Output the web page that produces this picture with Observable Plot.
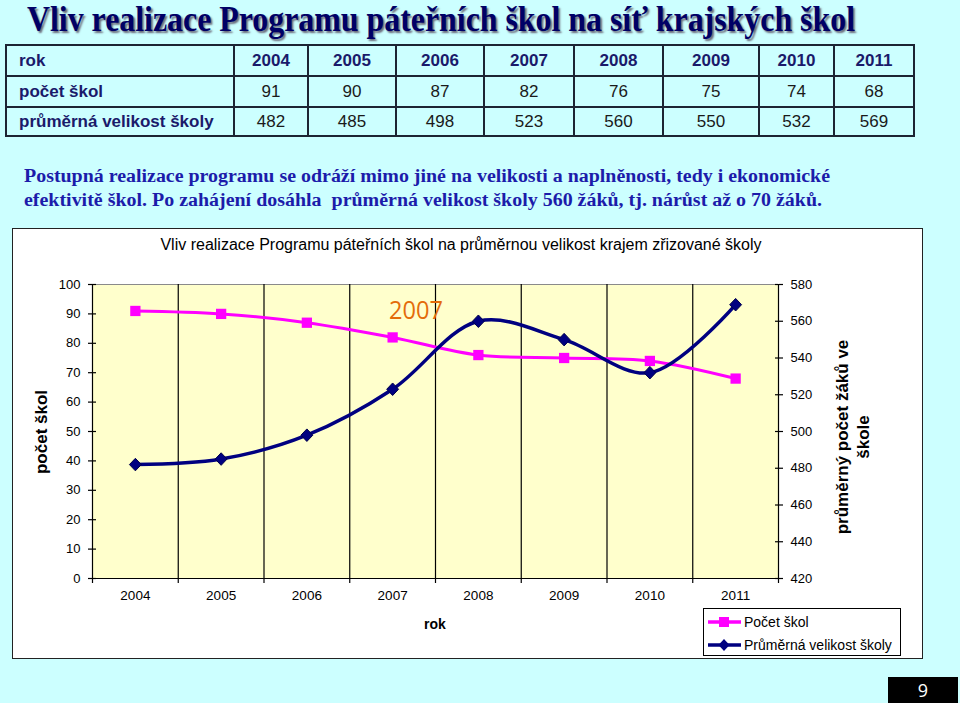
<!DOCTYPE html>
<html>
<head>
<meta charset="utf-8">
<script src="https://cdn.jsdelivr.net/npm/d3@7"></script>
<script src="https://cdn.jsdelivr.net/npm/@observablehq/plot@0.6"></script>
<style>
  html, body { margin: 0; padding: 0; }
  body { width: 960px; height: 703px; background: #ccffff; position: relative; overflow: hidden; font-family: "Liberation Sans", Arial, sans-serif; }
  .abs { position: absolute; white-space: nowrap; }
  #title { left: 27px; top: 2px; line-height: 1; font-family: "Liberation Serif", "Times New Roman", serif; font-weight: bold; font-size: 35px; color: #000066; text-shadow: 2px 2px 2px #6a6a7a; transform-origin: 0 50%; }
  table { position: absolute; left: 5px; top: 44px; border-collapse: collapse; font-size: 17px; }
  td { border: 2px solid #1c2433; padding: 0; text-align: center; color: #1a1a1a; height: 29px; }
  td.h { font-weight: bold; color: #1a1a6a; }
  td.first { text-align: left; padding-left: 12px; font-weight: bold; color: #1a1a6a; }
  .para { left: 24px; font-family: "Liberation Serif", "Times New Roman", serif; font-weight: bold; font-size: 18.5px; color: #1c1caa; transform-origin: 0 50%; }
  #chartbox { position: absolute; left: 12px; top: 228px; width: 909px; height: 429px; background: #fff; border: 1px solid #222; }
  #plot { position: absolute; left: 13px; top: 229px; }
  #ctitle { left: 0; width: 922px; top: 236px; text-align: center; font-size: 16px; color: #000; }
  #anno { left: 389px; top: 291px; font-family: "Open Sans", sans-serif; font-size: 26px; color: #e46c0a; transform-origin: 0 50%; }
  .ylab { font-weight: bold; font-size: 17px; color: #000; text-align: center; transform: translate(-50%, -50%) rotate(-90deg); line-height: 21px; }
  #rok { left: 435px; top: 624px; transform: translate(-50%, -50%); font-weight: bold; font-size: 14px; }
  #legend { position: absolute; left: 703px; top: 608px; width: 196px; height: 46px; border: 1px solid #000; background: #fff; font-size: 14px; }
  .lrow { position: absolute; left: 4px; height: 20px; display: flex; align-items: center; }
  .lrow svg { margin-right: 3px; }
  #page { left: 888px; top: 677px; width: 70px; height: 26px; background: #000; color: #fff; font-family: "Open Sans", sans-serif; font-size: 18px; text-align: center; line-height: 26px; }
</style>
</head>
<body>
<div id="title" class="abs">Vliv realizace Programu páteřních škol na síť krajských škol</div>
<div id="tablewrap"></div>
<div id="p1" class="abs para" style="top:166px">Postupná realizace programu se odráží mimo jiné na velikosti a naplněnosti, tedy i ekonomické</div>
<div id="p2" class="abs para" style="top:190px">efektivitě škol. Po zahájení dosáhla&nbsp; průměrná velikost školy 560 žáků, tj. nárůst až o 70 žáků.</div>
<div id="chartbox"></div>
<div id="ctitle" class="abs">Vliv realizace Programu páteřních škol na průměrnou velikost krajem zřizované školy</div>
<div id="plot"></div>
<div id="anno" class="abs">2007</div>
<div class="abs ylab" style="left:41px; top:432px;">počet škol</div>
<div class="abs ylab" style="left:853px; top:437px;">průměrný počet žáků ve<br>škole</div>
<div id="rok" class="abs">rok</div>
<div id="legend"></div>
<div id="page" class="abs">9</div>
<script>
// ---- data ----
const years = [2004, 2005, 2006, 2007, 2008, 2009, 2010, 2011];
const pocetSkol = [91, 90, 87, 82, 76, 75, 74, 68];
const velikost = [482, 485, 498, 523, 560, 550, 532, 569];
const leftTicks = [0, 10, 20, 30, 40, 50, 60, 70, 80, 90, 100];
const rightTicks = [420, 440, 460, 480, 500, 520, 540, 560, 580];
const rowLabels = ["rok", "počet škol", "průměrná velikost školy"];
const seriesNames = ["Počet škol", "Průměrná velikost školy"];
const colWidths = [228, 74, 88, 88, 90, 89, 96, 75, 80];

// ---- table ----
(function () {
  const t = document.createElement("table");
  const rows = [years, pocetSkol, velikost];
  rows.forEach((vals, r) => {
    const tr = document.createElement("tr");
    const th = document.createElement("td");
    th.className = "first";
    th.textContent = rowLabels[r];
    th.style.width = (colWidths[0] - 14) + "px";
    tr.appendChild(th);
    vals.forEach((v, i) => {
      const td = document.createElement("td");
      if (r === 0) td.className = "h";
      td.textContent = v;
      td.style.width = (colWidths[i + 1] - 2) + "px";
      tr.appendChild(td);
    });
    if (r === 2) tr.querySelectorAll("td").forEach(td => td.style.height = "27px");
    t.appendChild(tr);
  });
  document.getElementById("tablewrap").appendChild(t);
})();

// fit widths of condensed text
function fit(id, target) {
  const el = document.getElementById(id);
  const w = el.getBoundingClientRect().width;
  el.style.transform = `scaleX(${target / w})`;
}
fit("title", 828);
fit("p1", 806);
fit("p2", 798);
fit("anno", 54);

// ---- chart ----
const yMin = rightTicks[0], yMax = rightTicks[rightTicks.length - 1];
const toLeft = v => (v - yMin) / (yMax - yMin) * 100;
const edges = [years[0] - 0.5, ...years.map(y => y + 0.5)];
const inner = edges.slice(1, -1);
const dataP = years.map((y, i) => ({year: y, v: pocetSkol[i]}));
const dataV = years.map((y, i) => ({year: y, v: velikost[i]}));
const W = 908, H = 428, mL = 79, mR = 143, mT = 55, mB = 79;
const plotW = W - mL - mR;

const diamond = {
  draw(ctx, size) {
    const r = Math.sqrt(size / 2);
    ctx.moveTo(0, -r); ctx.lineTo(r * 0.95, 0); ctx.lineTo(0, r); ctx.lineTo(-r * 0.95, 0); ctx.closePath();
  }
};

const chart = Plot.plot({
  width: W, height: H,
  marginLeft: mL, marginRight: mR, marginTop: mT, marginBottom: mB,
  style: {background: "transparent", fontFamily: "Liberation Sans, Arial, sans-serif", fontSize: "13px", color: "#000", overflow: "visible"},
  x: {domain: [edges[0], edges[edges.length - 1]], axis: null},
  y: {domain: [0, 100], axis: null},
  marks: [
    Plot.frame({fill: "#ffffcc", stroke: "none"}),
    Plot.ruleY([100], {stroke: "#8a8a8a", strokeWidth: 1}),
    Plot.ruleX(inner, {stroke: "#000", strokeWidth: 1.2}),
    Plot.ruleX([edges[0], edges[edges.length - 1]], {stroke: "#000", strokeWidth: 1.2}),
    Plot.ruleY([0], {stroke: "#000", strokeWidth: 1.2}),
    Plot.axisY(leftTicks, {anchor: "left", tickSize: 4, tickPadding: 8, label: null, strokeWidth: 1.2, fontSize: 13}),
    Plot.tickY(leftTicks, {y: d => d, insetRight: plotW - 4, stroke: "#000", strokeWidth: 1.2}),
    Plot.axisY(rightTicks.map(toLeft), {anchor: "right", tickSize: 4, tickPadding: 8, label: null, strokeWidth: 1.2, fontSize: 13,
      tickFormat: d => String(Math.round(yMin + d / 100 * (yMax - yMin)))}),
    Plot.tickY(rightTicks, {y: toLeft, insetLeft: plotW - 3, stroke: "#000", strokeWidth: 1.2}),
    Plot.axisX(years, {anchor: "bottom", tickSize: 0, tickPadding: 12, label: null, fontSize: 13.5, tickFormat: d => String(d)}),
    Plot.axisX(edges, {anchor: "bottom", tickSize: 5, label: null, tickFormat: () => "", strokeWidth: 1.2}),
    Plot.line(dataP, {x: "year", y: "v", stroke: "#ff00ff", strokeWidth: 3, curve: "catmull-rom"}),
    Plot.line(dataV, {x: "year", y: d => toLeft(d.v), stroke: "#000080", strokeWidth: 3.5, curve: "catmull-rom"}),
    Plot.dot(dataP, {x: "year", y: "v", symbol: "square", r: 5.8, fill: "#ff00ff", stroke: "none"}),
    Plot.dot(dataV, {x: "year", y: d => toLeft(d.v), symbol: diamond, r: 5, fill: "#000080", stroke: "#00004a", strokeWidth: 1})
  ]
});
document.getElementById("plot").appendChild(chart);

// ---- legend ----
(function () {
  const lg = document.getElementById("legend");
  const specs = [
    {name: seriesNames[0], color: "#ff00ff", marker: '<rect x="11" y="5" width="10" height="10" fill="#ff00ff"/>'},
    {name: seriesNames[1], color: "#000080", marker: '<path d="M16 4 L21.5 10 L16 16 L10.5 10 Z" fill="#000080"/>'}
  ];
  specs.forEach((s, i) => {
    const row = document.createElement("div");
    row.className = "lrow";
    row.style.top = (3 + i * 23) + "px";
    row.innerHTML = `<svg width="33" height="20"><line x1="0" y1="10" x2="33" y2="10" stroke="${s.color}" stroke-width="3.5"/>${s.marker}</svg><span>${s.name}</span>`;
    lg.appendChild(row);
  });
})();
</script>
</body>
</html>
